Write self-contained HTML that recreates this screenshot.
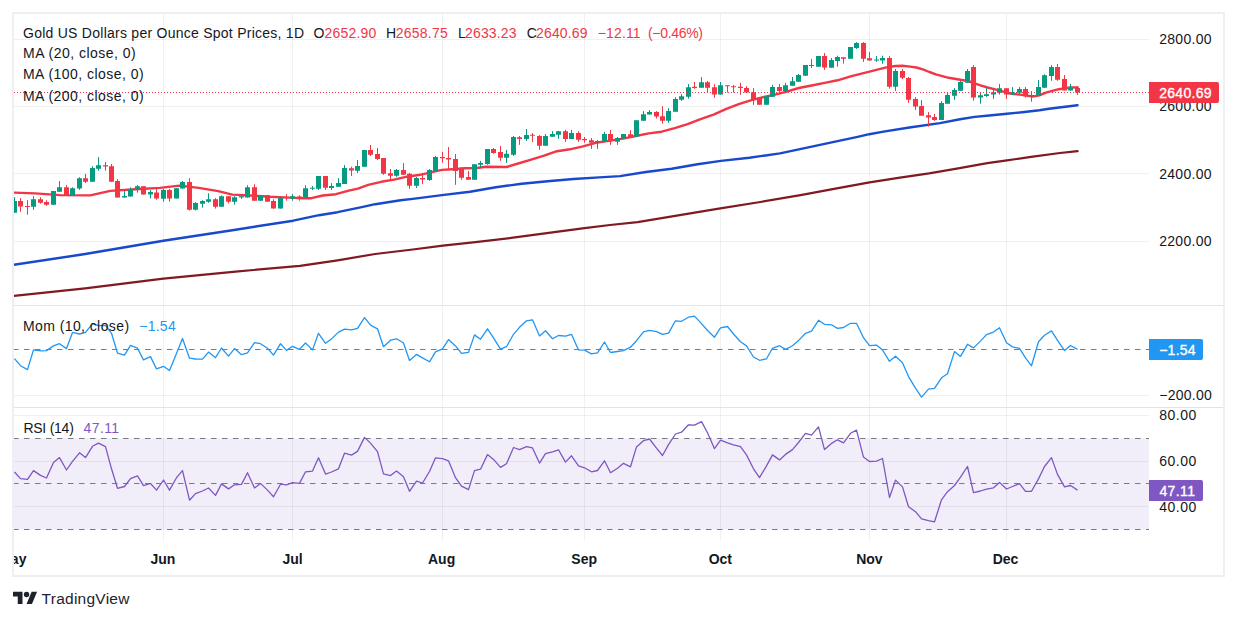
<!DOCTYPE html>
<html><head><meta charset="utf-8"><title>Gold Spot Chart</title>
<style>html,body{margin:0;padding:0;background:#fff}body{width:1237px;height:620px;overflow:hidden}svg{display:block}text{font-family:"Liberation Sans",sans-serif;font-size:14px;fill:#131722}.b{font-weight:bold}.w{fill:#fff;stroke:#fff;stroke-width:.35px}</style></head><body>
<svg width="1237" height="620" viewBox="0 0 1237 620">
<rect width="1237" height="620" fill="#fff"/>
<defs><clipPath id="cp"><rect x="14" y="14" width="1135" height="540"/></clipPath><clipPath id="cf"><rect x="14" y="14" width="1209" height="561"/></clipPath></defs>
<rect x="14" y="438.3" width="1135" height="91.2" fill="#7e57c2" fill-opacity="0.1"/>
<g stroke="#2a2e39" stroke-opacity="0.07" stroke-width="1" shape-rendering="crispEdges">
<line x1="14" x2="1149" y1="39.5" y2="39.5"/>
<line x1="14" x2="1149" y1="106.5" y2="106.5"/>
<line x1="14" x2="1149" y1="173.5" y2="173.5"/>
<line x1="14" x2="1149" y1="241.5" y2="241.5"/>
<line x1="14" x2="1149" y1="395.5" y2="395.5"/>
<line x1="14" x2="1149" y1="415.5" y2="415.5"/>
<line x1="14" x2="1149" y1="461.5" y2="461.5"/>
<line x1="14" x2="1149" y1="506.5" y2="506.5"/>
<line x1="163.5" x2="163.5" y1="14" y2="541"/>
<line x1="292.5" x2="292.5" y1="14" y2="541"/>
<line x1="442.5" x2="442.5" y1="14" y2="541"/>
<line x1="584.5" x2="584.5" y1="14" y2="541"/>
<line x1="720.5" x2="720.5" y1="14" y2="541"/>
<line x1="869.5" x2="869.5" y1="14" y2="541"/>
<line x1="1006.5" x2="1006.5" y1="14" y2="541"/>
</g>
<g stroke="#e0e3eb" stroke-width="1" shape-rendering="crispEdges">
<line x1="14" x2="1223" y1="305.5" y2="305.5"/>
<line x1="14" x2="1223" y1="407.5" y2="407.5"/>
</g>
<g clip-path="url(#cp)">
<polyline points="13.8,295.9 85.2,288.3 163.4,278.6 235.6,271.6 300,265.8 337.6,260.3 375.2,254 412.8,249.5 442.9,245.7 475.4,242.2 513,237.7 550.6,232.7 584.5,228.2 610,225 637.6,222.1 675.2,215.8 720.3,208.3 760.4,202 800.5,195.2 838.1,188.2 869.6,182.4 900,177.7 929.1,173.4 958.2,168.3 987.3,163.2 1007,160.3 1031,156.9 1060,153 1077.6,151.1" fill="none" stroke="#801922" stroke-width="2.2" stroke-linejoin="round" stroke-linecap="round"/>
<polyline points="13.8,264.8 85.2,254 163.4,240.7 235.6,229.7 293.2,220.7 319,215.2 337.6,212.2 361.7,207.2 375.2,204.2 400.6,200.3 412.8,198.9 442,195.1 470,191.8 495.9,187.3 521.7,183.7 547.6,181.2 573.5,179 599.4,177.4 620,176.1 645.9,172 671.7,168.7 697.6,164.2 720.9,160.9 749.4,157.7 780,153.4 805.9,147.9 831.7,142.3 857.6,136.8 869.3,134.2 883.5,131.6 909.4,127.5 940,123.1 960,119.3 974.7,116.9 986.7,115.8 1007,113.8 1022.3,112.2 1039.4,110.2 1049,108.7 1077.5,105.2" fill="none" stroke="#1848cc" stroke-width="2.4" stroke-linejoin="round" stroke-linecap="round"/>
<polyline points="13.8,192.6 35,193.4 60,195.1 90.2,195.4 110.3,190.9 135.3,189.3 160,187.9 179.4,185.6 198.8,187.9 218.2,191.1 232.4,194.6 250.6,195.5 270,196.8 289.4,197.6 302.3,198.2 311.4,198.2 322.9,195.5 335.9,194.2 348.8,190.6 357.9,188.7 368.2,184.8 381.2,181.8 394.1,179.6 407,176.7 420,174.8 432.9,171.9 442,169.9 452.3,169.3 465,168.3 476.8,168 485.9,166.7 506.6,167 518.2,163.5 531.2,159.6 544.1,155.7 557,151.2 570,149.3 582.9,146.3 595.8,142.8 608.8,140.9 622.9,138.6 635.9,136 648.8,133.4 661.7,131.7 674.7,128.2 687.6,124.1 700.6,119.2 713.5,114.6 726.4,108.8 739.4,103.9 752.3,99.8 765.2,96.7 772.9,95.2 785.9,91.9 798.8,88 811.7,85.5 824.7,82.9 837.6,80.3 850.6,76.4 863.5,73.2 876.4,69.9 889.4,66.7 895.8,66 902.3,65.8 910,66.6 916.5,67.5 922.9,69.4 929.4,72 935.9,74.3 948.8,77.8 961.7,80 968.2,81 974.7,83.4 981.2,85.6 987.6,87.5 994.1,89.1 1000.6,90.8 1007,92.7 1013.5,94 1020,94.6 1026.4,95.5 1032.9,96.6 1039.4,95.3 1045.8,92.7 1052.3,90.8 1058.8,89.2 1065.2,88.2 1070,87.5 1077.7,87.4" fill="none" stroke="#f23645" stroke-width="2.4" stroke-linejoin="round" stroke-linecap="round"/>
<path d="M14.5 197.2V212.7M33.5 196.2V209.8M53.5 191.1V204.7M59.5 181V191.7M72.5 187.3V195.9M79.5 177.2V189.8M92.5 166.2V181.7M98.5 157.1V170.7M124.5 191.1V197.6M130.5 187.3V196.6M137.5 184.9V192.7M150.5 190.1V198.5M163.5 188.8V201.7M176.5 188.2V198.5M182.5 181V188.6M195.5 202V210.5M202.5 200.2V207.6M208.5 193.3V202.8M221.5 195.3V206.7M234.5 196.2V204.6M241.5 195V198.9M247.5 185.2V197.6M260.5 195.3V200.7M280.5 197.2V208.6M292.5 194.2V200.7M305.5 185.2V197.6M312.5 186.1V190M318.5 176.1V190M331.5 183.1V190M338.5 178.1V186.7M344.5 165V183.9M357.5 160V172.9M364.5 149.9V166.7M396.5 169V176.8M416.5 177V188M429.5 169V180.9M435.5 156V171.9M474.5 164.2V179.7M480.5 160.9V167.8M487.5 149V164.8M506.5 149.9V162.9M513.5 136V155.8M526.5 129V140.9M545.5 134V145.8M552.5 131.2V136.7M558.5 131.2V138.9M571.5 129.9V138.9M597.5 140V148.9M604.5 131.8V141.9M617.5 137V144.8M623.5 134V138.8M636.5 120.2V136.6M643.5 111.1V120.7M649.5 110.1V114.6M668.5 108.2V122.8M675.5 97.2V111.7M681.5 94.2V100.8M688.5 84V98.7M701.5 77.1V87.7M720.5 82V94.6M766.5 96.2V104.8M772.5 84.8V96.8M785.5 82.9V92.8M792.5 77V85.7M798.5 73.8V81.8M805.5 65V75.8M818.5 56.1V66.7M831.5 58V67.7M837.5 55.7V66.7M850.5 47V58.7M856.5 42.1V49M876.5 56.1V61.9M882.5 55.7V63.7M895.5 69V90.9M941.5 101.1V119.9M947.5 93.1V103.7M954.5 88.2V99.8M960.5 81V90.8M967.5 69V82.7M980.5 92V103.7M986.5 87.1V96.8M993.5 89.2V98.9M999.5 84V94.6M1012.5 87.1V94.6M1019.5 87.1V94.6M1031.5 91.1V101.7M1038.5 80V95.9M1044.5 74.2V87.8M1051.5 65.1V80.8M1070.5 83.9V90.6" stroke="#089981" stroke-width="1" fill="none"/>
<path d="M20.5 198.1V211.8M27.5 200.2V214.7M40.5 197.2V203.7M46.5 200.2V205.9M66.5 184.9V195.3M85.5 173.9V183M105.5 162V170.7M111.5 164V181.7M117.5 179.1V197.6M143.5 186.2V194.6M156.5 188.8V199.8M169.5 188.8V201.7M189.5 178.2V210.5M215.5 198.1V208.6M228.5 196.2V203.4M254.5 184.3V200.7M267.5 195.3V201.7M273.5 199.2V208.6M286.5 194.2V200.7M299.5 195.3V200.7M325.5 176.1V190M351.5 166.7V176.1M370.5 145V156M377.5 147.9V160M383.5 158V174.8M390.5 169V179M403.5 163.1V174.8M409.5 172.9V188.9M422.5 172.9V184.2M442.5 151.8V162.8M448.5 147V169.3M455.5 154V184.8M461.5 167.3V179.8M468.5 171V179.8M493.5 148V153.8M500.5 146V160.9M519.5 136V144.8M532.5 133.1V141.9M539.5 135.1V149.9M565.5 129.9V141.9M578.5 131.2V141.9M584.5 137V142.8M591.5 138V148.9M610.5 129.9V144.8M630.5 130.2V137.3M656.5 111.1V118.5M662.5 106.2V123.7M694.5 82V88.8M707.5 81V92M714.5 84.2V97.8M727.5 85.3V92.6M733.5 84.9V92.6M740.5 82.9V94.8M746.5 86.2V92.6M753.5 88.1V104.9M759.5 97.8V104.8M779.5 83.9V92.6M811.5 58.9V68M824.5 53.1V69.9M843.5 57.3V63.7M863.5 42.1V61.9M869.5 51.8V60.6M889.5 56.1V88.7M902.5 69V79M908.5 77V102.9M915.5 97.1V109.9M921.5 100.2V115.7M928.5 112.1V126.6M934.5 114V120.9M973.5 65.1V100.7M1006.5 88.2V98.9M1025.5 87.1V97.6M1057.5 64V80.8M1064.5 75V90.4M1077.5 86.1V94.9" stroke="#f23645" stroke-width="1" fill="none"/>
<path d="M12 201.1h5v11.6h-5zM31 199.2h5v7.5h-5zM51 191.1h5v13.6h-5zM57 187.3h5v4.4h-5zM70 188.2h5v7.7h-5zM77 178.2h5v10.4h-5zM90 168.1h5v13.6h-5zM96 165.3h5v3.5h-5zM122 195.9h5v1.7h-5zM128 189.2h5v7.4h-5zM135 186.2h5v3.3h-5zM148 192h5v2.6h-5zM161 190.1h5v8.6h-5zM174 188.2h5v10.3h-5zM180 182.1h5v6.5h-5zM193 203h5v6.8h-5zM200 201.1h5v2.6h-5zM206 199.2h5v2.5h-5zM219 196.2h5v10.5h-5zM232 197.2h5v4.5h-5zM239 196.2h5v1.4h-5zM245 187.3h5v10.3h-5zM258 195.3h5v5.4h-5zM278 198.1h5v10.5h-5zM290 196.2h5v2.3h-5zM303 188.2h5v9.4h-5zM310 187.7h5v1h-5zM316 176.1h5v12.6h-5zM329 186.1h5v1.9h-5zM336 183.1h5v3.6h-5zM342 168h5v15.9h-5zM355 166h5v4.8h-5zM362 149.9h5v16.8h-5zM394 169.9h5v5.8h-5zM414 178.1h5v7.6h-5zM427 169.9h5v10.1h-5zM433 157h5v14h-5zM472 164.2h5v15.5h-5zM478 163.1h5v1.7h-5zM485 149h5v14.9h-5zM504 153.8h5v3.9h-5zM511 137h5v17.8h-5zM524 135.1h5v3.8h-5zM543 136.1h5v9.7h-5zM550 134.1h5v2.6h-5zM556 131.2h5v3.5h-5zM569 133.1h5v5.8h-5zM595 140.9h5v1.3h-5zM602 134.1h5v7.8h-5zM615 138.1h5v3.6h-5zM621 134h5v4.8h-5zM634 120.2h5v16.4h-5zM641 114.2h5v6.5h-5zM647 112h5v2.6h-5zM666 111.1h5v9.6h-5zM673 99.1h5v12.6h-5zM679 96.3h5v3.5h-5zM686 87.2h5v9.6h-5zM699 82.3h5v5.4h-5zM718 85.3h5v9.3h-5zM764 96.2h5v8.6h-5zM770 87.1h5v9.7h-5zM783 85.2h5v5.7h-5zM790 81.2h5v4.5h-5zM796 75.1h5v6.7h-5zM803 65h5v10.8h-5zM816 56.1h5v10.6h-5zM829 60h5v7.7h-5zM835 57h5v3.9h-5zM848 47h5v11.7h-5zM854 43h5v4.9h-5zM874 59.6h5v1h-5zM880 58h5v2.6h-5zM893 71h5v15.7h-5zM939 103h5v16.9h-5zM945 95h5v8.7h-5zM952 90.1h5v5.6h-5zM958 82.1h5v8.7h-5zM965 71.1h5v11.6h-5zM978 95.3h5v2.3h-5zM984 94.2h5v1.7h-5zM991 92.3h5v2.3h-5zM997 88.2h5v4.5h-5zM1010 92.3h5v2.3h-5zM1017 89.1h5v3.6h-5zM1029 95h5v1.3h-5zM1036 87.1h5v8.8h-5zM1042 75.2h5v12.6h-5zM1049 67.1h5v8.8h-5zM1068 88.1h5v2.5h-5z" fill="#089981"/>
<path d="M18 201.1h5v5.4h-5zM25 205.9h5v1h-5zM38 199.2h5v3.6h-5zM44 202.1h5v2.6h-5zM64 187.3h5v8h-5zM83 178.2h5v3.5h-5zM103 165.3h5v1.3h-5zM109 166.2h5v15.5h-5zM115 181h5v16.6h-5zM141 186.2h5v8.4h-5zM154 192.4h5v6.1h-5zM167 190.1h5v8.4h-5zM187 182.1h5v27.7h-5zM213 199.2h5v7.5h-5zM226 196.2h5v5.5h-5zM252 187.3h5v13.4h-5zM265 195.3h5v6.4h-5zM271 201.1h5v7.5h-5zM284 197h5v1.1h-5zM297 196.6h5v1.9h-5zM323 176.1h5v11.7h-5zM349 168.2h5v2.4h-5zM368 149.9h5v4.9h-5zM375 154h5v4.9h-5zM381 158h5v15.8h-5zM388 173.2h5v2.5h-5zM401 169.9h5v4.9h-5zM407 173.8h5v11.9h-5zM420 178.1h5v1.5h-5zM440 157h5v1.3h-5zM446 158h5v1.6h-5zM453 158.9h5v12.1h-5zM459 168.5h5v9.2h-5zM466 177h5v2.8h-5zM491 149h5v3.9h-5zM498 152.1h5v5.6h-5zM517 137.3h5v1.6h-5zM530 134.7h5v1h-5zM537 136.1h5v9.7h-5zM563 131.2h5v7.7h-5zM576 133.1h5v6.7h-5zM582 138.9h5v1.3h-5zM589 140.2h5v2.6h-5zM608 134.1h5v7.1h-5zM628 134.3h5v3h-5zM654 112h5v4.6h-5zM660 116.2h5v4.5h-5zM692 86.8h5v1.1h-5zM705 82.3h5v5.4h-5zM712 87.2h5v7.4h-5zM725 85.3h5v1h-5zM731 86.2h5v1h-5zM738 86.8h5v1.1h-5zM744 88.1h5v4.5h-5zM751 92.3h5v7.7h-5zM757 97.8h5v7h-5zM777 87.1h5v3.8h-5zM809 65h5v1h-5zM822 56.1h5v11.5h-5zM841 57.3h5v1.4h-5zM861 43h5v15.7h-5zM867 58.3h5v2.3h-5zM887 58h5v28.7h-5zM900 71h5v6.7h-5zM906 78.1h5v21.6h-5zM913 99.1h5v7.4h-5zM919 106h5v9.7h-5zM926 115.3h5v2.2h-5zM932 117h5v2.9h-5zM971 67.1h5v30.5h-5zM1004 88.2h5v6.4h-5zM1023 89.1h5v7.2h-5zM1055 67.1h5v12.7h-5zM1062 79.1h5v11.3h-5zM1075 88.1h5v4.5h-5z" fill="#f23645"/>
<line x1="14" x2="1149" y1="92.5" y2="92.5" stroke="#f23645" stroke-width="1" stroke-dasharray="1 2" shape-rendering="crispEdges"/>
<line x1="13" x2="1149" y1="349.5" y2="349.5" stroke="#787b86" stroke-width="1" stroke-dasharray="5.5 5.5"/>
<polyline points="14.5,358.6 20.5,365.7 27.5,369.6 33.5,349.9 40.5,350.8 46.5,350.6 53.5,345.9 59.5,343.7 66.5,348.6 72.5,332.4 79.5,334 85.5,332.4 92.5,323.6 98.5,325.6 105.5,325.3 111.5,333.3 117.5,353.1 124.5,355.1 130.5,345.4 137.5,348.2 143.5,359.9 150.5,356.6 156.5,368.9 163.5,366.3 169.5,370.5 176.5,353.4 182.5,338.5 189.5,358.2 195.5,359 202.5,359.2 208.5,352.1 215.5,357.7 221.5,348 228.5,356.2 234.5,348.6 241.5,354.7 247.5,352.8 254.5,342.7 260.5,343.7 267.5,348.2 273.5,355.1 280.5,343.7 286.5,350.4 292.5,346.3 299.5,349.3 305.5,343 312.5,349.9 318.5,333.3 325.5,343.3 331.5,338.9 338.5,332.1 344.5,329.2 351.5,329.9 357.5,328.4 364.5,317.6 370.5,325.2 377.5,328.8 383.5,346.7 390.5,340.2 396.5,338.8 403.5,343 409.5,360.5 416.5,354.4 422.5,357.9 429.5,361.8 435.5,351.8 442.5,348.9 448.5,339.6 455.5,345.9 461.5,353.4 468.5,352.4 474.5,334.9 480.5,339.2 487.5,328.8 493.5,337.9 500.5,349.1 506.5,346.7 513.5,334.3 519.5,327.3 526.5,320.8 532.5,319.8 539.5,335.9 545.5,330.8 552.5,338.8 558.5,335.5 565.5,336.2 571.5,334.3 578.5,349.9 584.5,350.2 591.5,353.8 597.5,352.8 604.5,342 610.5,352.5 617.5,351.5 623.5,350.6 630.5,347.2 636.5,340.7 643.5,331.8 649.5,330.4 656.5,331.7 662.5,334.4 668.5,333.1 675.5,320.8 681.5,321.3 688.5,317.2 694.5,316.1 701.5,323.6 707.5,330.5 714.5,337.2 720.5,327.8 727.5,326.5 733.5,334 740.5,341.8 746.5,345.9 753.5,357 759.5,360.3 766.5,358.8 772.5,348.3 779.5,345.7 785.5,349.4 792.5,345.7 798.5,340.6 805.5,333.3 811.5,331.2 818.5,320.3 824.5,324.3 831.5,324.8 837.5,328.4 843.5,327.5 850.5,323.3 856.5,323.3 863.5,337.7 869.5,345.7 876.5,345.1 882.5,350 889.5,361.3 895.5,356.3 902.5,362.8 908.5,376.6 915.5,388.2 921.5,397.1 928.5,389.1 934.5,388.4 941.5,377.8 947.5,373.8 954.5,351.6 960.5,356.4 967.5,344.3 973.5,347.9 980.5,341.1 986.5,334.6 993.5,332.1 999.5,327.7 1006.5,342.8 1012.5,346.9 1019.5,348.4 1025.5,357.8 1031.5,365.8 1038.5,341.8 1044.5,335.3 1051.5,330.9 1057.5,340.4 1064.5,350.6 1070.5,345.5 1077.5,349.4" fill="none" stroke="#2196f3" stroke-width="1.3" stroke-linejoin="round"/>
<line x1="13" x2="1149" y1="438.5" y2="438.5" stroke="#787b86" stroke-width="1" stroke-dasharray="5.5 5.5"/>
<line x1="13" x2="1149" y1="483.5" y2="483.5" stroke="#787b86" stroke-width="1" stroke-dasharray="5.5 5.5"/>
<line x1="13" x2="1149" y1="529.5" y2="529.5" stroke="#787b86" stroke-width="1" stroke-dasharray="5.5 5.5"/>
<polyline points="14.5,472 20.5,478.6 27.5,479.4 33.5,470.6 40.5,475.4 46.5,478 53.5,462.6 59.5,457.6 66.5,470 72.5,461.3 79.5,452.8 85.5,457.6 92.5,446.3 98.5,443.1 105.5,446.6 111.5,468.8 117.5,488.3 124.5,486.5 130.5,478.6 137.5,475.9 143.5,485.7 150.5,483.5 156.5,490.1 163.5,480 169.5,490.1 176.5,477.7 182.5,470.6 189.5,500.2 195.5,493.6 202.5,491 208.5,488 215.5,495.4 221.5,483.9 228.5,488.9 234.5,484.8 241.5,484.4 247.5,472.7 254.5,488 260.5,483.4 267.5,490.1 273.5,496.8 280.5,484.2 286.5,484.8 292.5,482.6 299.5,483.4 305.5,471.8 312.5,471.1 318.5,457.8 325.5,474.1 331.5,472 338.5,468.8 344.5,453.2 351.5,455.1 357.5,451.4 364.5,437.4 370.5,443.1 377.5,451.6 383.5,473.8 390.5,475.6 396.5,471.1 403.5,476.8 409.5,491.3 416.5,481.2 422.5,483 429.5,471.5 435.5,457.8 442.5,458.7 448.5,460.8 455.5,477.7 461.5,486.2 468.5,489.6 474.5,470.6 480.5,469.2 487.5,454.6 493.5,459.4 500.5,467.4 506.5,463.8 513.5,447.5 519.5,449.6 526.5,446.6 532.5,447.9 539.5,463.1 545.5,453.7 552.5,451.9 558.5,449.8 565.5,462.1 571.5,455.8 578.5,465.8 584.5,467.8 591.5,471.8 597.5,470.5 604.5,460.8 610.5,472.7 617.5,468.2 623.5,463.3 630.5,466.8 636.5,446.9 643.5,440.7 649.5,439 656.5,448.2 662.5,455.5 668.5,444.6 675.5,434 681.5,432.2 688.5,424.8 694.5,425.1 701.5,421.6 707.5,432.7 714.5,448.7 720.5,440.2 727.5,442.9 733.5,444.8 740.5,446.6 746.5,454.9 753.5,468.8 759.5,477.6 766.5,465.9 772.5,454.9 779.5,459.9 785.5,454.4 792.5,449.6 798.5,442.5 805.5,433.3 811.5,435.1 818.5,426.9 824.5,449.6 831.5,443.4 837.5,439.8 843.5,442.9 850.5,433.3 856.5,430.1 863.5,457.1 869.5,461.5 876.5,461.1 882.5,458.5 889.5,497.5 895.5,480.1 902.5,486.9 908.5,506.7 915.5,511.7 921.5,518.8 928.5,520.6 934.5,521.8 941.5,499.8 947.5,491.7 954.5,485.5 960.5,477.1 967.5,466.5 973.5,492.6 980.5,491 986.5,489.2 993.5,487.8 999.5,482.4 1006.5,489 1012.5,486.5 1019.5,483.7 1025.5,491.3 1031.5,491.3 1038.5,478.9 1044.5,466.5 1051.5,457.6 1057.5,474.4 1064.5,486.9 1070.5,485.5 1077.5,490.1" fill="none" stroke="#7e57c2" stroke-width="1.3" stroke-linejoin="round"/>
</g>
<text x="23" y="37.5" textLength="281" lengthAdjust="spacing">Gold US Dollars per Ounce Spot Prices, 1D</text>
<text x="313.6" y="37.5" textLength="9.5" lengthAdjust="spacing">O</text>
<text x="324.4" y="37.5" textLength="52" lengthAdjust="spacing" style="fill:#f23645;">2652.90</text>
<text x="385.9" y="37.5" textLength="8.5" lengthAdjust="spacing">H</text>
<text x="395.8" y="37.5" textLength="52" lengthAdjust="spacing" style="fill:#f23645;">2658.75</text>
<text x="457.9" y="37.5" textLength="6" lengthAdjust="spacing">L</text>
<text x="465" y="37.5" textLength="51.6" lengthAdjust="spacing" style="fill:#f23645;">2633.23</text>
<text x="526.8" y="37.5" textLength="8.2" lengthAdjust="spacing">C</text>
<text x="536" y="37.5" textLength="51.6" lengthAdjust="spacing" style="fill:#f23645;">2640.69</text>
<text x="597.8" y="37.5" textLength="42.8" lengthAdjust="spacing" style="fill:#f23645;">−12.11</text>
<text x="648" y="37.5" textLength="55" lengthAdjust="spacing" style="fill:#f23645;">(−0.46%)</text>
<text x="23" y="58.3" textLength="112.7" lengthAdjust="spacing">MA (20, close, 0)</text>
<text x="23" y="79.4" textLength="120.6" lengthAdjust="spacing">MA (100, close, 0)</text>
<text x="23" y="100.6" textLength="120.6" lengthAdjust="spacing">MA (200, close, 0)</text>
<text x="23" y="330.7" textLength="106.1" lengthAdjust="spacing">Mom (10, close)</text>
<text x="139.3" y="330.7" textLength="36.4" lengthAdjust="spacing" style="fill:#2196f3;">−1.54</text>
<text x="23.4" y="432.6" textLength="50.4" lengthAdjust="spacing">RSI (14)</text>
<text x="83.5" y="432.6" textLength="35.6" lengthAdjust="spacing" style="fill:#7e57c2;">47.11</text>
<text x="1159.2" y="44" textLength="52.4" lengthAdjust="spacing">2800.00</text>
<text x="1159.2" y="111.4" textLength="52.4" lengthAdjust="spacing">2600.00</text>
<text x="1159.2" y="178.8" textLength="52.4" lengthAdjust="spacing">2400.00</text>
<text x="1159.2" y="246.2" textLength="52.4" lengthAdjust="spacing">2200.00</text>
<text x="1159.2" y="399.9" textLength="52.6" lengthAdjust="spacing">−200.00</text>
<text x="1159.2" y="420.2" textLength="37" lengthAdjust="spacing">80.00</text>
<text x="1159.2" y="465.8" textLength="37" lengthAdjust="spacing">60.00</text>
<text x="1159.2" y="511.6" textLength="37" lengthAdjust="spacing">40.00</text>
<path d="M1149 82h68a2 2 0 0 1 2 2v17a2 2 0 0 1 -2 2h-68z" fill="#f23645"/>
<text x="1159.2" y="97.8" textLength="52.4" lengthAdjust="spacing" class="w">2640.69</text>
<path d="M1149 339h52a2 2 0 0 1 2 2v17a2 2 0 0 1 -2 2h-52z" fill="#2196f3"/>
<text x="1159.2" y="354.7" textLength="36.4" lengthAdjust="spacing" class="w">−1.54</text>
<path d="M1149 480h52a2 2 0 0 1 2 2v17a2 2 0 0 1 -2 2h-52z" fill="#7e57c2"/>
<text x="1159.4" y="495.7" textLength="35.6" lengthAdjust="spacing" class="w">47.11</text>
<g clip-path="url(#cf)">
<text x="12.8" y="564" class="b" text-anchor="middle">May</text>
<text x="162.9" y="564" class="b" text-anchor="middle">Jun</text>
<text x="292.5" y="564" class="b" text-anchor="middle">Jul</text>
<text x="441.6" y="564" class="b" text-anchor="middle">Aug</text>
<text x="584.2" y="564" class="b" text-anchor="middle">Sep</text>
<text x="720.3" y="564" class="b" text-anchor="middle">Oct</text>
<text x="869.4" y="564" class="b" text-anchor="middle">Nov</text>
<text x="1005.5" y="564" class="b" text-anchor="middle">Dec</text>
</g>
<rect x="13" y="13" width="1211" height="563" fill="none" stroke="#edeff4" stroke-width="2"/>
<g transform="translate(13,589.1) scale(0.678)" fill="#1e222d"><path d="M14 22H7V11H0V4h14v18zM28 22h-8l7.5-18h8L28 22z"/><circle cx="20" cy="8" r="4"/></g>
<text x="41.6" y="603.8" textLength="87.8" lengthAdjust="spacing" style="fill:#1e222d;font-size:15.5px;">TradingView</text>
</svg></body></html>
